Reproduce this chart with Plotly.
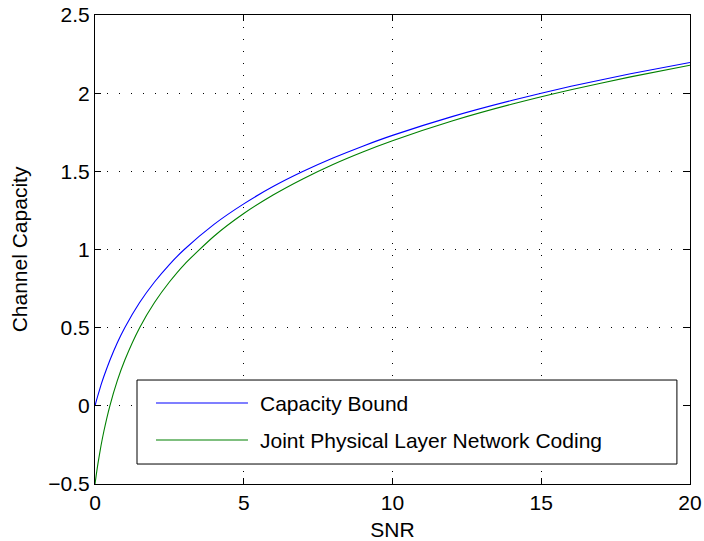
import plotly.graph_objects as go

# SNR sample points
snr = [0, 0.02, 0.05, 0.1, 0.2, 0.3, 0.5, 0.75, 1, 1.5, 2, 2.5, 3, 4, 5, 6, 7, 8, 9, 10, 12, 14, 16, 18, 20]
capacity_bound = [0.0, 0.014, 0.035, 0.069, 0.132, 0.189, 0.292, 0.404, 0.5, 0.661, 0.792, 0.904, 1.0,
                  1.161, 1.292, 1.404, 1.5, 1.585, 1.661, 1.730, 1.850, 1.953, 2.044, 2.124, 2.196]
joint_pnc = [-0.5, -0.472, -0.431, -0.368, -0.257, -0.161, 0.0, 0.161, 0.292, 0.5, 0.661, 0.792, 0.904,
             1.085, 1.230, 1.350, 1.453, 1.544, 1.624, 1.696, 1.822, 1.929, 2.022, 2.104, 2.179]

series_names = ["Capacity Bound", "Joint Physical Layer Network Coding"]
series_colors = ["#0000ff", "#008000"]

x_ticks = [0, 5, 10, 15, 20]
y_ticks = [-0.5, 0, 0.5, 1, 1.5, 2, 2.5]

FONT = "Liberation Sans, Arial, Helvetica, sans-serif"
FS = 21

fig = go.Figure()
for name, ys, col in zip(series_names, [capacity_bound, joint_pnc], series_colors):
    fig.add_trace(go.Scatter(x=snr, y=ys, mode="lines", name=name,
                             line=dict(color=col, width=1.1, shape="spline", smoothing=0.6),
                             showlegend=False))

axis_common = dict(
    showline=True, linecolor="black", linewidth=1, mirror="ticks",
    ticks="inside", ticklen=6, tickwidth=1, tickcolor="black",
    showgrid=True, gridcolor="#000000", gridwidth=1, griddash="1px,11px",
    zeroline=False, tickfont=dict(family=FONT, size=FS, color="black"),
    automargin=False,
)

fig.update_xaxes(range=[0, 20], tickvals=x_ticks, ticktext=[str(v) for v in x_ticks],
                 title=dict(text="SNR", font=dict(family=FONT, size=FS, color="black"), standoff=10),
                 **axis_common)
fig.update_yaxes(range=[-0.5, 2.5], tickvals=y_ticks,
                 ticktext=[("\u2212" + str(abs(v)) if v < 0 else ("%g" % v)) for v in y_ticks],
                 title=dict(text="Channel Capacity", font=dict(family=FONT, size=FS, color="black"), standoff=14),
                 **axis_common)

# Manual legend (MATLAB style box)
shapes = [dict(type="rect", xref="x domain", yref="y domain", x0=0.0706, x1=0.978, y0=0.0426, y1=0.2217,
               line=dict(color="black", width=1), fillcolor="white", layer="above")]
row_y = [0.1727, 0.0938]
annotations = []
for name, col, ry in zip(series_names, series_colors, row_y):
    shapes.append(dict(type="line", xref="x domain", yref="y domain", x0=0.1025, x1=0.2571, y0=ry, y1=ry,
                       line=dict(color=col, width=1.1), layer="above"))
    annotations.append(dict(text=name, xref="x domain", yref="y domain", x=0.274, y=ry,
                            xanchor="left", yanchor="middle", showarrow=False,
                            font=dict(family=FONT, size=FS, color="black")))

fig.update_layout(
    width=704, height=541,
    margin=dict(l=95, r=14, t=15, b=57),
    plot_bgcolor="white", paper_bgcolor="white",
    shapes=shapes, annotations=annotations,
    font=dict(family=FONT, size=FS, color="black"),
)

fig.write_html("out.html")
